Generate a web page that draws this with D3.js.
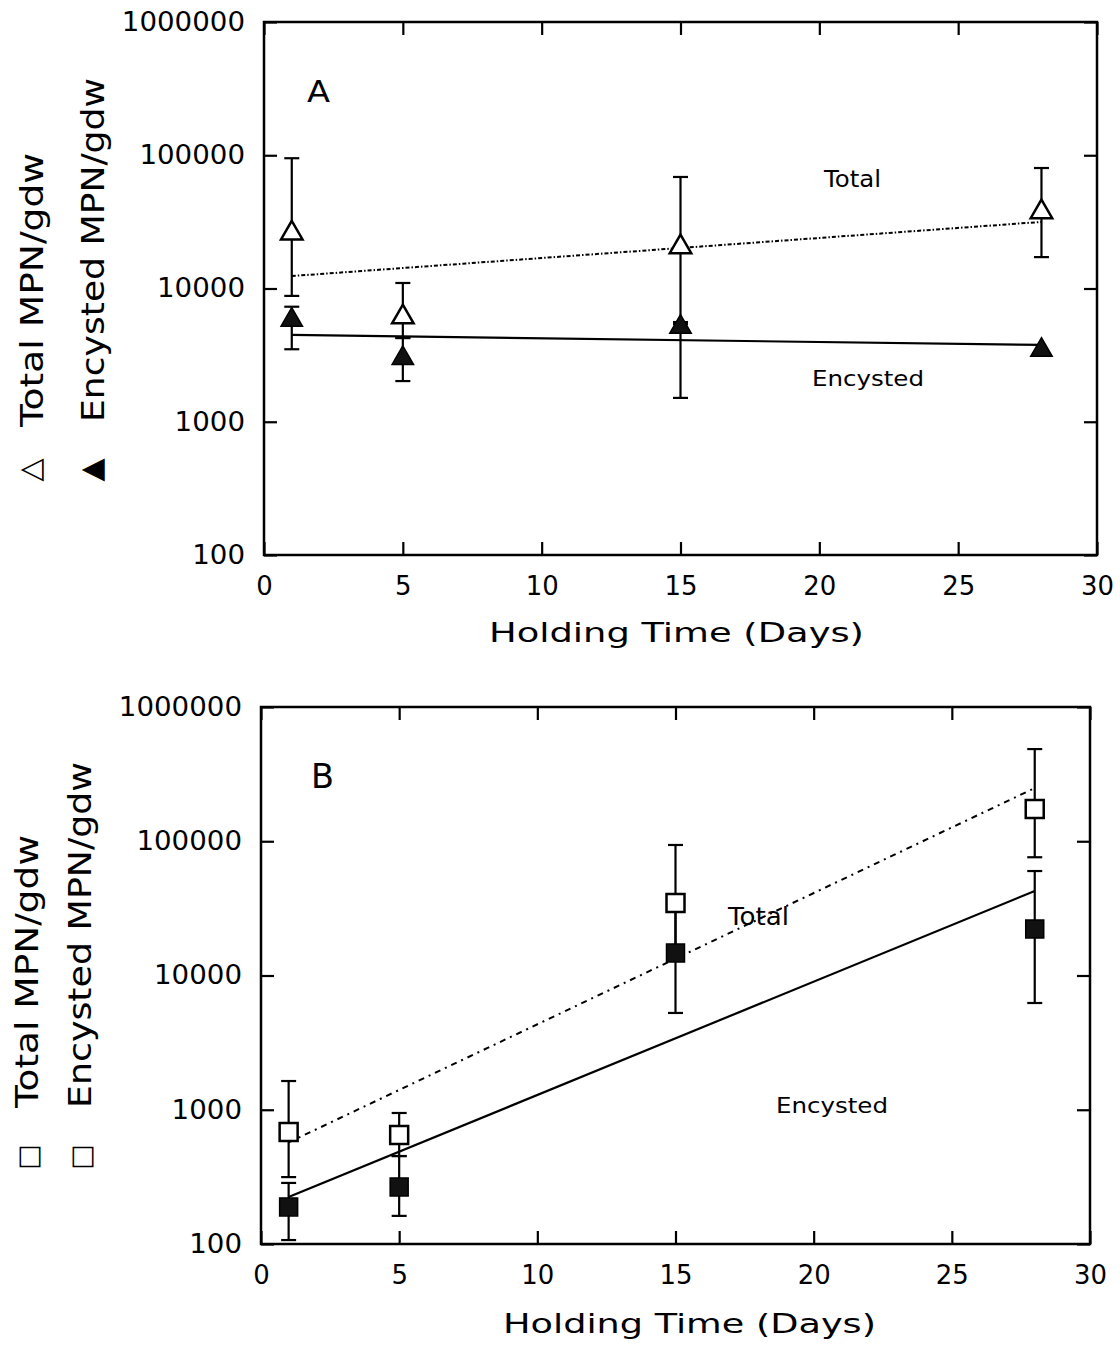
<!DOCTYPE html>
<html><head><meta charset="utf-8">
<script src="https://cdn.jsdelivr.net/npm/d3@7"></script>
<style>body{margin:0;background:#fff}svg text{font-family:"DejaVu Sans",sans-serif;fill:#000}</style>
</head><body>
<svg id="c" width="1120" height="1348"></svg>
<script>
// ---- data ----
const days = [1, 5, 15, 28];
const xTicks = [0, 5, 10, 15, 20, 25, 30];
const yTicks = [100, 1000, 10000, 100000, 1000000];
const yTickLabels = ["100", "1000", "10000", "100000", "1000000"];
const fitDays = [1, 28];

// Panel A (triangles)
const aTotal   = [26000, 6100, 20500, 37500];
const aTotalLo = [8800, 4250, 5400, 17200];
const aTotalHi = [95000, 11000, 68700, 80200];
const aEnc     = [5800, 3000, 5140, 3450];
const aEncLo   = [3500, 2020, 1510, 3450];
const aEncHi   = [7300, 4250, 5600, 3450];
const aFitTotal = [12400, 31600];
const aFitEnc   = [4480, 3770];

// Panel B (squares)
const bTotal   = [682, 649, 34700, 174000];
const bTotalLo = [315, 452, 15000, 76000];
const bTotalHi = [1637, 946, 93800, 486000];
const bEnc     = [189, 266, 14700, 22200];
const bEncLo   = [107, 162, 5260, 6240];
const bEncHi   = [285, 452, 34000, 60000];
const bFitTotal = [571, 249000];
const bFitEnc   = [224, 42600];

const xTitle = "Holding Time (Days)";
const yTitleTotal = "Total MPN/gdw";
const yTitleEnc = "Encysted MPN/gdw";

// ---- layout ----
const panels = [
  {letter:"A", x0:264, x1:1097, y0:22, y1:555,
   total:aTotal, totalLo:aTotalLo, totalHi:aTotalHi,
   enc:aEnc, encLo:aEncLo, encHi:aEncHi, fitT:aFitTotal, fitE:aFitEnc,
   symbol:d3.symbolTriangle, symSize:200, dash:"4,2,1.5,2",
   openGlyph:"\u25B3", fillGlyph:"\u25B2", glyphSize:30,
   letterPos:[307,102,30,23],
   totalLbl:[824,187,23,57], encLbl:[812,386,22,112],
   xTitlePos:[489,642,26,375],
   yCol1:[43,427,274], yCol2:[104,422,344], glyphY:470, glyphX:[29,90]},
  {letter:"B", x0:261, x1:1090, y0:707, y1:1244,
   total:bTotal, totalLo:bTotalLo, totalHi:bTotalHi,
   enc:bEnc, encLo:bEncLo, encHi:bEncHi, fitT:bFitTotal, fitE:bFitEnc,
   symbol:d3.symbolSquare, symSize:324, dash:"6,5,2,5",
   openGlyph:"\u25A1", fillGlyph:"\u25A1", glyphSize:27,
   letterPos:[311,788,34,23],
   totalLbl:[728,925,24,61], encLbl:[776,1113,22,112],
   xTitlePos:[503,1333,27,373],
   yCol1:[38,1108,273], yCol2:[91,1108,346], glyphY:1157, glyphX:[27,80]}
];

const svg = d3.select("#c");
svg.append("rect").attr("width",1120).attr("height",1348).attr("fill","#fff");

panels.forEach(p => {
  const x = d3.scaleLinear().domain([0,30]).range([p.x0,p.x1]);
  const y = d3.scaleLog().domain([100,1000000]).range([p.y1,p.y0]);
  const g = svg.append("g");

  // axes (inward ticks on all four sides)
  const bottom = g.append("g").attr("transform",`translate(0,${p.y1})`)
    .call(d3.axisBottom(x).tickValues(xTicks).tickSizeInner(-13).tickSizeOuter(0).tickPadding(22).tickFormat(d3.format("d")));
  const top = g.append("g").attr("transform",`translate(0,${p.y0})`)
    .call(d3.axisTop(x).tickValues(xTicks).tickSizeInner(-13).tickSizeOuter(0).tickFormat(""));
  const left = g.append("g").attr("transform",`translate(${p.x0},0)`)
    .call(d3.axisLeft(y).tickValues(yTicks).tickSizeInner(-13).tickSizeOuter(0).tickPadding(19)
      .tickFormat((d,i)=>yTickLabels[i]));
  const right = g.append("g").attr("transform",`translate(${p.x1},0)`)
    .call(d3.axisRight(y).tickValues(yTicks).tickSizeInner(-13).tickSizeOuter(0).tickFormat(""));
  [bottom,top,left,right].forEach(a=>{
    a.select(".domain").remove();
    a.selectAll(".tick line").attr("stroke","#000").attr("stroke-width",2.2);
    a.selectAll(".tick text").attr("font-size",26).attr("font-family","DejaVu Sans").attr("fill","#000");
  });
  bottom.selectAll(".tick text").each(function(){
    const t=d3.select(this); t.attr("textLength",t.text().length*16.5).attr("lengthAdjust","spacingAndGlyphs");
  });
  left.selectAll(".tick text").each(function(){
    const t=d3.select(this); t.attr("textLength",t.text().length*17.6).attr("lengthAdjust","spacingAndGlyphs");
  });

  // frame
  g.append("rect").attr("x",p.x0).attr("y",p.y0).attr("width",p.x1-p.x0).attr("height",p.y1-p.y0)
    .attr("fill","none").attr("stroke","#000").attr("stroke-width",2.5);

  // fit lines
  const line = d3.line().x((d,i)=>x(fitDays[i])).y(d=>y(d));
  g.append("path").attr("d",line(p.fitT)).attr("fill","none").attr("stroke","#000")
    .attr("stroke-width",2).attr("stroke-dasharray",p.dash);
  g.append("path").attr("d",line(p.fitE)).attr("fill","none").attr("stroke","#000").attr("stroke-width",2.2);

  // error bars
  function errBars(lo, hi){
    days.forEach((d,i)=>{
      if (lo[i]===hi[i]) return;
      const cx=x(d);
      g.append("line").attr("x1",cx).attr("x2",cx).attr("y1",y(lo[i])).attr("y2",y(hi[i]))
        .attr("stroke","#000").attr("stroke-width",2.2);
      [lo[i],hi[i]].forEach(v=>{
        g.append("line").attr("x1",cx-7.5).attr("x2",cx+7.5).attr("y1",y(v)).attr("y2",y(v))
          .attr("stroke","#000").attr("stroke-width",2.2);
      });
    });
  }
  errBars(p.totalLo,p.totalHi);
  errBars(p.encLo,p.encHi);

  // markers
  const sym = d3.symbol().type(p.symbol).size(p.symSize);
  g.selectAll(null).data(p.enc).enter().append("path")
    .attr("d",sym).attr("transform",(v,i)=>`translate(${x(days[i])},${y(v)})`)
    .attr("fill","#111").attr("stroke","#000").attr("stroke-width",1.5);
  g.selectAll(null).data(p.total).enter().append("path")
    .attr("d",sym).attr("transform",(v,i)=>`translate(${x(days[i])},${y(v)})`)
    .attr("fill","#fff").attr("stroke","#000").attr("stroke-width",2.5);

  // annotations
  g.append("text").attr("x",p.letterPos[0]).attr("y",p.letterPos[1]).attr("font-size",p.letterPos[2])
    .attr("textLength",p.letterPos[3]).attr("lengthAdjust","spacingAndGlyphs").text(p.letter);
  g.append("text").attr("x",p.totalLbl[0]).attr("y",p.totalLbl[1]).attr("font-size",p.totalLbl[2])
    .attr("textLength",p.totalLbl[3]).attr("lengthAdjust","spacingAndGlyphs").text("Total");
  g.append("text").attr("x",p.encLbl[0]).attr("y",p.encLbl[1]).attr("font-size",p.encLbl[2])
    .attr("textLength",p.encLbl[3]).attr("lengthAdjust","spacingAndGlyphs").text("Encysted");

  // x title
  g.append("text").attr("x",p.xTitlePos[0]).attr("y",p.xTitlePos[1]).attr("font-size",p.xTitlePos[2])
    .attr("textLength",p.xTitlePos[3]).attr("lengthAdjust","spacingAndGlyphs").text(xTitle);

  // y titles (two rotated lines with legend glyphs)
  [[p.yCol1,yTitleTotal],[p.yCol2,yTitleEnc]].forEach(([c,txt])=>{
    g.append("text").attr("transform",`translate(${c[0]},${c[1]}) rotate(-90)`)
      .attr("font-size",32).attr("textLength",c[2]).attr("lengthAdjust","spacingAndGlyphs").text(txt);
  });
  [p.openGlyph,p.fillGlyph].forEach((gl,i)=>{
    g.append("text").attr("transform",`translate(${p.glyphX[i]},${p.glyphY}) rotate(-90)`)
      .attr("font-size",p.glyphSize).attr("text-anchor","middle").attr("dominant-baseline","central").text(gl);
  });
});
</script>
</body></html>
